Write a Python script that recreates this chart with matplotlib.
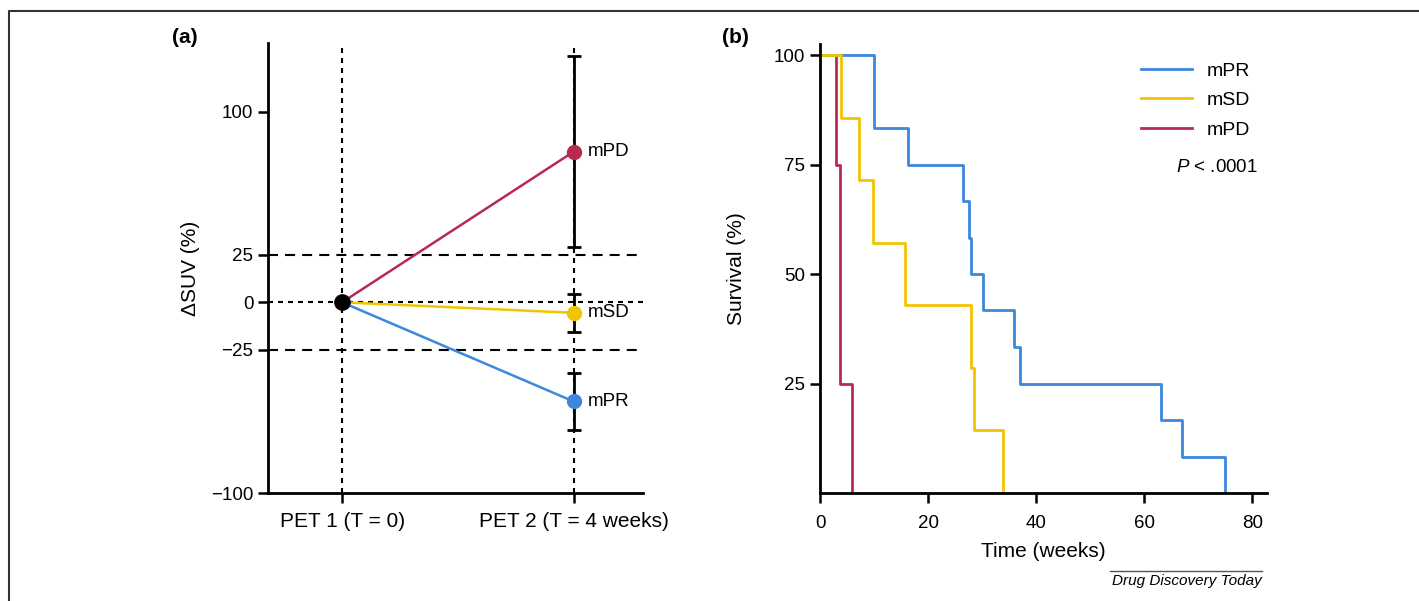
import matplotlib
matplotlib.use("Agg")
import matplotlib.pyplot as plt
from matplotlib.lines import Line2D

plt.rcParams['font.family'] = ['Liberation Sans', 'DejaVu Sans']
plt.rcParams['mathtext.fontset'] = 'custom'
plt.rcParams['mathtext.it'] = 'Liberation Sans:italic'
plt.rcParams['mathtext.rm'] = 'Liberation Sans'

# colours
blue = '#3b88dc'
yellow = '#f2c400'
red = '#b82a52'

# panel (a) data
pet_labels = ["PET 1 (T = 0)", "PET 2 (T = 4 weeks)"]
groups = ["mPD", "mSD", "mPR"]
dsuv_pet2 = [79, -5.5, -52]
dsuv_err = [50, 10, 15]
group_colors = [red, yellow, blue]

# panel (b) data: Kaplan-Meier steps
t_pr = [0, 10, 16.2, 26.5, 27.5, 28, 30.1, 35.8, 37, 63, 67, 75]
s_pr = [100, 83.3, 75, 66.7, 58.3, 50, 41.7, 33.3, 25, 16.7, 8.3, 0]
t_sd = [0, 3.9, 7.3, 9.75, 15.7, 27.9, 28.4, 33.8]
s_sd = [100, 85.7, 71.4, 57.1, 42.9, 28.6, 14.3, 0]
t_pd = [0, 2.9, 3.7, 5.9]
s_pd = [100, 75, 25, 0]

fig = plt.figure(figsize=(14.19, 6.01), dpi=100)

# ---------------- panel (a)
ax1 = fig.add_axes([0.1889, 0.1797, 0.2643, 0.7488])
ax1.set_xlim(-0.32, 1.30)
ax1.set_ylim(-100, 136)

dotted = (0, (2.4, 2.4))
dashed = (0, (4.8, 3.4))
for xv in [0, 1]:
    ax1.axvline(xv, color='black', lw=1.5, linestyle=dotted, zorder=1)
ax1.axhline(0, color='black', lw=1.5, linestyle=dotted, zorder=1)
ax1.axhline(25, color='black', lw=1.5, linestyle=dashed, zorder=1)
ax1.axhline(-25, color='black', lw=1.5, linestyle=dashed, zorder=1)

for g, v, e, c in zip(groups, dsuv_pet2, dsuv_err, group_colors):
    ax1.errorbar([1], [v], yerr=[e], fmt='none', ecolor='black', elinewidth=2,
                 capsize=5, capthick=2, zorder=2)
    ax1.plot([0, 1], [0, v], color=c, lw=1.8, zorder=3)
    ax1.plot([1], [v], 'o', color=c, markersize=10, zorder=4)
    ax1.text(1.06, v, g, fontsize=13.5, va='center', ha='left')
ax1.plot([0], [0], 'o', color='black', markersize=11, zorder=5)

ax1.set_xticks([0, 1])
ax1.set_xticklabels(pet_labels, fontsize=15)
ax1.set_yticks([-100, -25, 0, 25, 100])
ax1.set_yticklabels(['\u2212100', '\u221225', '0', '25', '100'], fontsize=13.5)
ax1.set_ylabel('\u0394SUV (%)', fontsize=15, labelpad=8)
for s in ['top', 'right']:
    ax1.spines[s].set_visible(False)
for s in ['left', 'bottom']:
    ax1.spines[s].set_linewidth(2)
ax1.tick_params(width=1.8, length=7)
ax1.tick_params(axis='x', pad=7)

# ---------------- panel (b)
ax2 = fig.add_axes([0.5779, 0.1797, 0.315, 0.747])
ax2.set_xlim(0, 82.7)
ax2.set_ylim(0, 102.5)
l_pd, = ax2.step(t_pd, s_pd, where='post', color=red, lw=2, label='mPD')
l_pr, = ax2.step(t_pr, s_pr, where='post', color=blue, lw=2, label='mPR')
l_sd, = ax2.step(t_sd, s_sd, where='post', color=yellow, lw=2, label='mSD')

ax2.set_xticks([0, 20, 40, 60, 80])
ax2.set_yticks([25, 50, 75, 100])
ax2.tick_params(labelsize=13.5, width=1.8, length=7)
ax2.tick_params(axis='x', pad=9)
ax2.set_xlabel('Time (weeks)', fontsize=15, labelpad=7)
ax2.set_ylabel('Survival (%)', fontsize=15, labelpad=20)
for s in ['top', 'right']:
    ax2.spines[s].set_visible(False)
for s in ['left', 'bottom']:
    ax2.spines[s].set_linewidth(2)

ax2.legend(handles=[l_pr, l_sd, l_pd], loc='upper left', bbox_to_anchor=(0.718, 0.96),
           frameon=False, fontsize=14, handlelength=2.6, handletextpad=0.8,
           labelspacing=0.62, borderpad=0, borderaxespad=0)
ax2.text(0.98, 0.726, '$P$ < .0001', transform=ax2.transAxes, fontsize=13.5,
         ha='right', va='center')

# panel labels
fig.text(0.130, 0.938, '(a)', fontsize=15, fontweight='bold', ha='center', va='center')
fig.text(0.518, 0.938, '(b)', fontsize=15, fontweight='bold', ha='center', va='center')

# footer
fig.text(1262 / 1419, 1 - 581 / 601, 'Drug Discovery Today', fontsize=11, style='italic',
         ha='right', va='center')
fig.add_artist(Line2D([1110 / 1419, 1262 / 1419], [1 - 571 / 601, 1 - 571 / 601],
                      color='#555555', lw=1, transform=fig.transFigure))

# outer frame (top and left)
fig.add_artist(Line2D([9 / 1419, 9 / 1419, 1.0], [0.0, 1 - 11 / 601, 1 - 11 / 601],
                      color='#333333', lw=1.5, transform=fig.transFigure))

fig.savefig('out.png', dpi=100)
